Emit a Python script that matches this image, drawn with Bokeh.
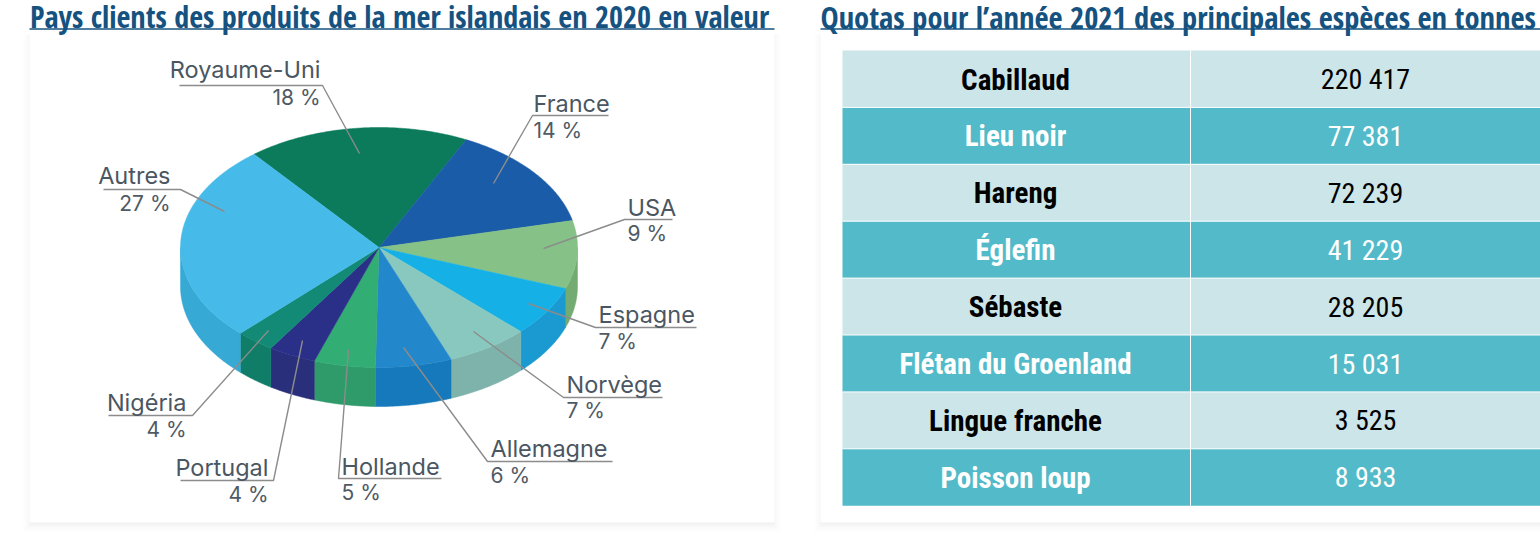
import math
from bokeh.plotting import figure
from bokeh.models import Range1d
from bokeh.core.properties import value
from bokeh.embed import file_html
from bokeh.resources import INLINE

# ---- data ----
countries = ["Royaume-Uni", "France", "USA", "Espagne", "Norvège", "Allemagne", "Hollande", "Portugal", "Nigéria", "Autres"]
percent_labels = ["18 %", "14 %", "9 %", "7 %", "7 %", "6 %", "5 %", "4 %", "4 %", "27 %"]
slice_shares = [18.06, 14.17, 9.17, 6.78, 6.75, 6.19, 5.0, 3.89, 3.14, 26.86]
species = ["Cabillaud", "Lieu noir", "Hareng", "Églefin", "Sébaste", "Flétan du Groenland", "Lingue franche", "Poisson loup"]
quotas = ["220 417", "77 381", "72 239", "41 229", "28 205", "15 031", "3 525", "8 933"]
title_left = "Pays clients des produits de la mer islandais en 2020 en valeur"
title_right = "Quotas pour l’année 2021 des principales espèces en tonnes"

# ---- style / layout ----
top_colors = ["#0b7b5b", "#1b5ca8", "#86c287", "#15b0e6", "#89c8bf", "#2387cb", "#32ad74", "#2a3088", "#128a76", "#46bbe9"]
side_colors = ["#0a6a4f", "#174f90", "#74ab73", "#1a9ad0", "#7eb3ab", "#1579bb", "#2f9b6b", "#292f7a", "#0f7d68", "#36a9d4"]
CX, CY, RX, RY, DEPTH = 378.5, 247, 198.5, 120, 39
START = 129.0

leaders = [
    ([179, 322, 359], [85, 85, 153]),
    ([608, 532, 493], [115, 115, 183]),
    ([672, 624, 543], [219, 219, 248]),
    ([696, 595, 528], [327, 327, 303]),
    ([662, 563, 473], [397, 397, 331]),
    ([612, 487, 403], [461, 461, 347]),
    ([441, 338, 348], [478, 478, 349]),
    ([180, 273, 302], [480, 480, 340]),
    ([108, 192, 268], [415, 415, 330]),
    ([103, 180, 224], [189, 189, 211]),
]
label_pos = [
    (320, 77, 105, "right"), (533, 111, 138, "left"), (627, 215, 241, "left"),
    (598, 322, 349, "left"), (566, 392, 418, "left"), (490, 456, 483, "left"),
    (341, 474, 500, "left"), (268, 475, 502, "right"), (186, 410, 437, "right"),
    (170, 183, 211, "right"),
]

p = figure(width=1540, height=534, output_backend="svg", toolbar_location=None,
           x_range=Range1d(0, 1540), y_range=Range1d(534, 0),
           min_border=0, outline_line_color=None, background_fill_color="white")
p.axis.visible = False
p.grid.visible = False

# cards with soft shadow
for left, right in [(29, 774), (820, 1560)]:
    for g, a in [(9, 0.006), (7, 0.009), (5, 0.012), (3, 0.016), (1, 0.02)]:
        side = max(g - 3, 0)
        p.quad(left=left - side, right=right + side, top=34, bottom=522 + g,
               fill_color="#000000", fill_alpha=a, line_color=None)
    p.quad(left=left, right=right, top=29, bottom=522, fill_color="white", line_color=None)
p.quad(left=0, right=1540, top=0, bottom=29, fill_color="white", line_color=None)

# pie
def pt(deg, dy=0):
    t = math.radians(deg)
    return CX + RX * math.cos(t), CY - RY * math.sin(t) + dy

angles = [START]
for s in slice_shares:
    angles.append(angles[-1] - s * 360 / sum(slice_shares))

for i in range(len(slice_shares)):
    a0, a1 = angles[i], angles[i + 1]
    spans = []
    for shift in (0, -360):
        s0, s1 = a0 + shift, a1 + shift
        x0, x1 = min(0.0, s0), max(-180.0, s1)
        if x0 > x1:
            spans.append((x0, x1))
    for x0, x1 in spans:
        n = max(2, int((x0 - x1) * 2))
        ds = [x0 + (x1 - x0) * k / n for k in range(n + 1)]
        xs = [pt(d)[0] for d in ds] + [pt(d)[0] for d in reversed(ds)]
        ys = [pt(d)[1] for d in ds] + [pt(d, DEPTH)[1] for d in reversed(ds)]
        p.patch(xs, ys, fill_color=side_colors[i], line_color=side_colors[i], line_width=0.5)

for i in range(len(slice_shares)):
    a0, a1 = angles[i], angles[i + 1]
    n = max(2, int((a0 - a1) * 2))
    ds = [a0 + (a1 - a0) * k / n for k in range(n + 1)]
    xs = [CX] + [pt(d)[0] for d in ds]
    ys = [CY] + [pt(d)[1] for d in ds]
    p.patch(xs, ys, fill_color=top_colors[i], line_color=top_colors[i], line_width=0.5)

# leaders
for (xs, ys) in leaders:
    p.line(xs, ys, line_color="#8c8c8c", line_width=1.4)

# labels (vertical centre of the text sits about 8px above its baseline)
LABEL_FONT = value("Inter")
for name, pct, (x, yn, yp, al) in zip(countries, percent_labels, label_pos):
    p.text([x], [yn - 8], text=[name], text_font=LABEL_FONT, text_font_size="23.5px",
           text_color="#4a5662", text_align=al, text_baseline="middle")
    p.text([x], [yp - 8], text=[pct], text_font=LABEL_FONT, text_font_size="21px",
           text_color="#4f5a64", text_align=al, text_baseline="middle")

# titles
TITLE_FONT = value("Open Sans Condensed")
TABLE_FONT = value("Roboto Condensed")
p.text([29.5], [16], text=[title_left], text_font=TITLE_FONT, text_font_size="30.2px",
       text_color="#15527f", text_baseline="middle")
p.text([820], [16], text=[title_right], text_font=TITLE_FONT, text_font_size="30.5px",
       text_color="#15527f", text_baseline="middle")
p.line([29, 774], [28.5, 28.5], line_color="#15527f", line_width=1.5)
p.line([820, 1540], [28.5, 28.5], line_color="#15527f", line_width=1.5)

# table
T_LEFT, T_MID, T_RIGHT, T_TOP, T_ROW = 842, 1190, 1540, 50, 56.9
for i, (sp, q) in enumerate(zip(species, quotas)):
    y0 = T_TOP + i * T_ROW
    dark = i % 2 == 1
    p.quad(left=T_LEFT, right=T_RIGHT, top=y0, bottom=y0 + T_ROW,
           fill_color="#52bac8" if dark else "#cce5e8", line_color=None)
    col = "white" if dark else "black"
    ym = y0 + T_ROW / 2 + 0.6
    p.text([(T_LEFT + T_MID) / 2 - 1], [ym], text=[sp], text_font=TABLE_FONT, text_font_size="29px",
           text_font_style="bold", text_color=col, text_align="center", text_baseline="middle")
    p.text([(T_MID + T_RIGHT) / 2], [ym], text=[q], text_font=TABLE_FONT, text_font_size="28px",
           text_color=col, text_align="center", text_baseline="middle")
    if i:
        p.line([T_LEFT, T_RIGHT], [y0, y0], line_color="white", line_width=1)
p.line([T_MID, T_MID], [T_TOP, T_TOP + 8 * T_ROW], line_color="white", line_width=1)

open("out.html", "w").write(file_html(p, INLINE))
